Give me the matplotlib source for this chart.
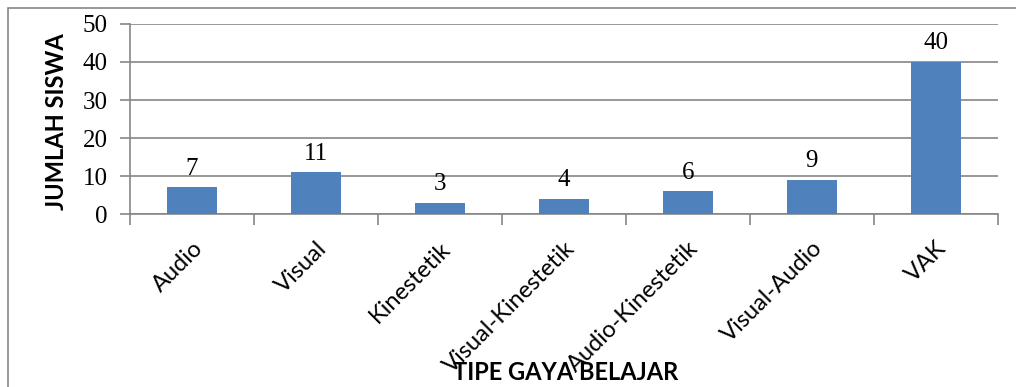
import matplotlib.pyplot as plt
from matplotlib.patches import Rectangle

# jumlah siswa per tipe gaya belajar
tipe = ['Audio', 'Visual', 'Kinestetik', 'Visual-Kinestetik',
        'Audio-Kinestetik', 'Visual-Audio', 'VAK']
jumlah = [7, 11, 3, 4, 6, 9, 40]

fig = plt.figure(figsize=(10.16, 3.87), dpi=100)
ax = fig.add_axes([0.128, 0.447, 0.854, 0.491])

# bingkai luar
fig.patches.append(Rectangle((0.008, -0.1), 1.1, 1.079, transform=fig.transFigure,
                             fill=False, edgecolor='#868686', linewidth=1.2))

x = range(len(tipe))
ax.bar(x, jumlah, width=0.4, color='#4F81BD', zorder=3)
for i, v in enumerate(jumlah):
    ax.text(i, v + 2.0, str(v), ha='center', va='bottom',
            family='Liberation Serif', fontsize=18)

ax.set_xlim(-0.5, len(tipe) - 0.5)
ax.set_ylim(0, 50)
ax.set_yticks(range(0, 51, 10))
ax.yaxis.grid(True, color='#868686', linewidth=1.2, zorder=0)
for lbl in ax.get_yticklabels():
    lbl.set_family('Liberation Serif')
    lbl.set_fontsize(18)

# tick kategori di batas antar batang
ax.set_xticks([i + 0.5 for i in range(-1, len(tipe))], minor=True)
ax.set_xticks(list(x))
ax.set_xticklabels(tipe, rotation=45, ha='right', rotation_mode='anchor',
                   family='Lato', fontsize=17)
ax.tick_params(axis='x', which='major', length=0, pad=17)
ax.tick_params(axis='x', which='minor', length=8, color='#868686', width=1.2)
ax.tick_params(axis='y', length=7, color='#868686', width=1.2, pad=9)

for s in ['top', 'right']:
    ax.spines[s].set_visible(False)
ax.spines['left'].set_color('#868686')
ax.spines['bottom'].set_color('#868686')
ax.spines['left'].set_linewidth(1.2)
ax.spines['bottom'].set_linewidth(1.2)

fig.text(0.557, 0.038, 'TIPE GAYA BELAJAR', ha='center', va='center',
         family='Lato', fontweight='bold', fontsize=17)
fig.text(0.056, 0.685, 'JUMLAH SISWA', ha='center', va='center', rotation=90,
         family='Lato', fontweight='bold', fontsize=17)

fig.savefig('out.png', dpi=100)
